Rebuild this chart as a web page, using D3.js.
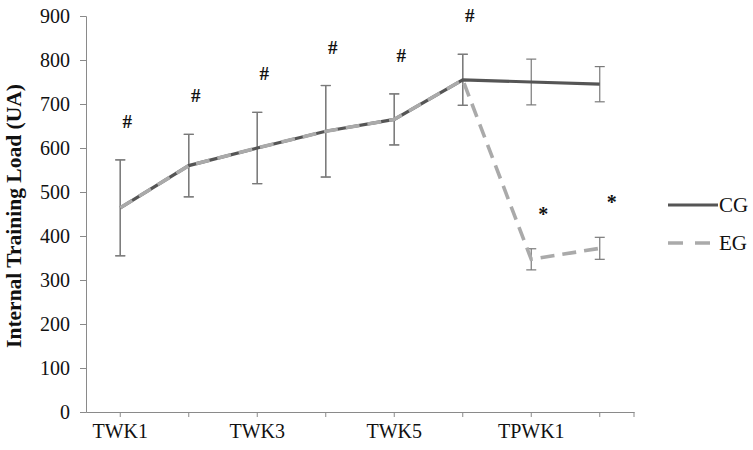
<!DOCTYPE html>
<html>
<head>
<meta charset="utf-8">
<script src="https://cdn.jsdelivr.net/npm/d3@7"></script>
<style>
  body { margin: 0; background: #fff; }
  svg text { font-family: "Liberation Serif", "Times New Roman", serif !important; }
</style>
</head>
<body>
<div id="chart"></div>
<script>
// weeks on the x axis (only every other one gets a label)
const weeks = ["TWK1", "TWK2", "TWK3", "TWK4", "TWK5", "TWK6", "TPWK1", "TPWK2"];
const shownLabels = ["TWK1", "TWK3", "TWK5", "TPWK1"];

// group means and SD
const cgMean = [464, 560, 600, 638, 665, 755, 750, 745];
const cgSd   = [109, 71, 81, 104, 58, 58, 52, 40];
const egMean = [464, 560, 600, 638, 665, 755, 347, 372];
const egSd   = [109, 71, 81, 104, 58, 58, 24, 25];

// significance marks
const hashWeeks = ["TWK1", "TWK2", "TWK3", "TWK4", "TWK5", "TWK6"];
const starWeeks = ["TPWK1", "TPWK2"];

const yTicks = [0, 100, 200, 300, 400, 500, 600, 700, 800, 900];

const width = 753;
const height = 450;
const margin = {left: 86, right: 119, top: 16, bottom: 38};

const svg = d3.select("#chart")
    .append("svg")
    .attr("width", width)
    .attr("height", height);

const xScale = d3.scaleBand()
    .domain(weeks)
    .range([margin.left, width - margin.right])
    .padding(0);

const xPos = (w) => xScale(w) + xScale.bandwidth() / 2;

const yScale = d3.scaleLinear()
    .domain([0, 900])
    .range([height - margin.bottom, margin.top]);

const axisColor = "#8a8a8a";
const serif = "Liberation Serif, Times New Roman, serif";

// y axis
const yAxis = svg.append("g")
    .attr("transform", `translate(${margin.left},0)`)
    .call(d3.axisLeft(yScale).tickValues(yTicks).tickSize(6).tickPadding(10))
    .attr("font-family", serif)
    .attr("font-size", 20);
yAxis.selectAll("line, path").attr("stroke", axisColor);
yAxis.selectAll("text").attr("fill", "#111");

// x axis
const xAxis = svg.append("g")
    .attr("transform", `translate(0,${height - margin.bottom})`)
    .call(d3.axisBottom(xScale)
        .tickSize(5)
        .tickPadding(7)
        .tickSizeOuter(0)
        .tickFormat((d) => shownLabels.includes(d) ? d : ""))
    .attr("font-family", serif)
    .attr("font-size", 20);
xAxis.selectAll("line, path").attr("stroke", axisColor);
xAxis.selectAll("text").attr("fill", "#111");
// closing tick at the right end of the category axis
xAxis.append("line")
    .attr("x1", width - margin.right).attr("x2", width - margin.right)
    .attr("y1", 0).attr("y2", 5)
    .attr("stroke", axisColor);

// y axis title
svg.append("text")
    .attr("transform", `translate(21,${(margin.top + height - margin.bottom) / 2 + 2}) rotate(-90)`)
    .attr("text-anchor", "middle")
    .attr("font-size", "21.5px")
    .attr("font-weight", "bold")
    .attr("fill", "#111")
    .text("Internal Training Load (UA)");

// error bars
const errColor = "#7a7a7a";
const capHalf = 5;
function errorBars(means, sds) {
    const g = svg.append("g");
    weeks.forEach((w, i) => {
        const x = xPos(w);
        const top = yScale(means[i] + sds[i]);
        const bot = yScale(means[i] - sds[i]);
        g.append("line").attr("x1", x).attr("x2", x).attr("y1", top).attr("y2", bot)
            .attr("stroke", errColor).attr("stroke-width", 1.2);
        [top, bot].forEach((y) => {
            g.append("line").attr("x1", x - capHalf).attr("x2", x + capHalf)
                .attr("y1", y).attr("y2", y)
                .attr("stroke", errColor).attr("stroke-width", 1.2);
        });
    });
}
errorBars(cgMean, cgSd);
errorBars(egMean, egSd);

const line = d3.line()
    .x((d, i) => xPos(weeks[i]))
    .y((d) => yScale(d));

const cgColor = "#555555";
const egColor = "#aaaaaa";

svg.append("path")
    .datum(cgMean)
    .attr("d", line)
    .attr("fill", "none")
    .attr("stroke", cgColor)
    .attr("stroke-width", 3.2);

svg.append("path")
    .datum(egMean)
    .attr("d", line)
    .attr("fill", "none")
    .attr("stroke", egColor)
    .attr("stroke-width", 3.6)
    .attr("stroke-dasharray", "14,8");

// significance symbols above the upper error bar
hashWeeks.forEach((w) => {
    const i = weeks.indexOf(w);
    svg.append("text")
        .attr("x", xPos(w) + 7)
        .attr("y", yScale(cgMean[i] + cgSd[i]) - 32)
        .attr("text-anchor", "middle")
        .attr("font-size", "19px")
        .attr("font-weight", "bold")
        .attr("fill", "#111")
        .text("#");
});
starWeeks.forEach((w) => {
    const i = weeks.indexOf(w);
    svg.append("text")
        .attr("x", xPos(w) + 12)
        .attr("y", yScale(egMean[i] + egSd[i]) - 28)
        .attr("text-anchor", "middle")
        .attr("font-size", "20px")
        .attr("font-weight", "bold")
        .attr("fill", "#111")
        .text("*");
});

// legend
const legend = svg.append("g").attr("transform", "translate(668,0)");
legend.append("line").attr("x1", 0).attr("x2", 50).attr("y1", 205).attr("y2", 205)
    .attr("stroke", cgColor).attr("stroke-width", 3.2);
legend.append("text").attr("x", 51).attr("y", 212).attr("font-size", "21px").attr("fill", "#111").text("CG");
legend.append("line").attr("x1", 0).attr("x2", 50).attr("y1", 243).attr("y2", 243)
    .attr("stroke", egColor).attr("stroke-width", 3.6).attr("stroke-dasharray", "15,12");
legend.append("text").attr("x", 51).attr("y", 250).attr("font-size", "21px").attr("fill", "#111").text("EG");
</script>
</body>
</html>
